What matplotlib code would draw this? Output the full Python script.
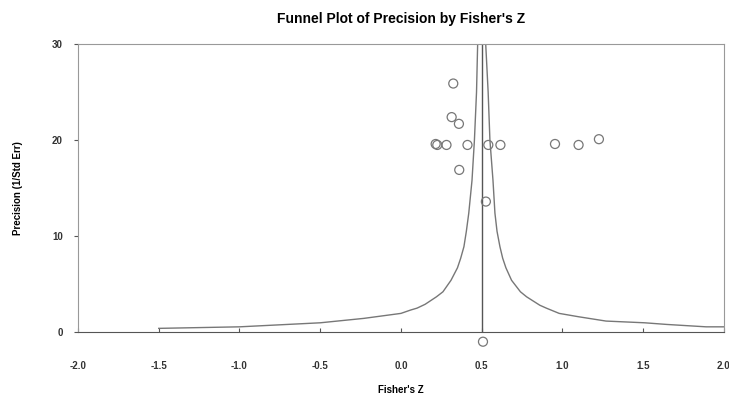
import matplotlib
matplotlib.use('Agg')
import matplotlib.pyplot as plt

# study estimates: Fisher's Z and precision (1/Std Err)
z_vals = [0.324, 0.314, 0.359, 0.215, 0.225, 0.282, 0.412, 0.541, 0.616,
          0.954, 1.100, 1.226, 0.361, 0.526, 0.508]
prec_vals = [25.9, 22.4, 21.7, 19.6, 19.5, 19.5, 19.5, 19.5, 19.5,
             19.6, 19.5, 20.1, 16.9, 13.6, -1.0]

# funnel boundaries
left_z = [-1.5, -1.0, -0.5, -0.23, 0.0, 0.06, 0.1, 0.15, 0.22, 0.26, 0.31, 0.35,
          0.37, 0.39, 0.405, 0.42, 0.44, 0.455, 0.468, 0.475]
left_p = [0.39, 0.55, 0.97, 1.43, 1.95, 2.3, 2.5, 2.9, 3.68, 4.2, 5.4, 6.7,
          7.7, 8.9, 10.5, 12.4, 15.8, 20.0, 25.0, 30.0]
right_z = [0.525, 0.54, 0.551, 0.57, 0.582, 0.595, 0.613, 0.63, 0.65, 0.685, 0.74,
           0.778, 0.86, 0.9, 0.98, 1.1, 1.27, 1.51, 1.645, 1.89, 2.0]
right_p = [30.0, 25.0, 20.0, 15.8, 12.4, 10.5, 8.9, 7.7, 6.7, 5.4, 4.2,
           3.68, 2.8, 2.5, 1.95, 1.6, 1.15, 0.97, 0.8, 0.55, 0.55]
mean_z = 0.5

x_ticks = [-2.0, -1.5, -1.0, -0.5, 0.0, 0.5, 1.0, 1.5, 2.0]
y_ticks = [0, 10, 20, 30]

plt.rcParams['font.family'] = ['Liberation Sans', 'DejaVu Sans']
fig = plt.figure(figsize=(7.29, 4.09), dpi=100)
ax = fig.add_axes([0.107, 0.188, 0.886, 0.704])

ax.plot(left_z, left_p, color='#777777', lw=1.0)
ax.plot(right_z, right_p, color='#777777', lw=1.0)
ax.plot([mean_z, mean_z], [0, 30], color='#555555', lw=1.0)
ax.scatter(z_vals, prec_vals, s=42, facecolors='none', edgecolors='#777777',
           linewidths=0.9, clip_on=False, zorder=3)

ax.set_xlim(-2.0, 2.0)
ax.set_ylim(0, 30)
ax.set_xticks(x_ticks)
ax.set_xticklabels(['%.1f' % v for v in x_ticks])
ax.set_yticks(y_ticks)
for s in ax.spines.values():
    s.set_color('#999999')
    s.set_linewidth(0.8)
ax.spines['bottom'].set_color('#555555')
ax.tick_params(axis='x', direction='in', length=3, pad=21, colors='#555555', labelsize=7)
ax.tick_params(axis='y', direction='out', length=3, pad=8, colors='#555555', labelsize=7)
for lab in ax.get_xticklabels() + ax.get_yticklabels():
    lab.set_fontweight('bold')
    lab.set_color('#333333')

ax.set_title("Funnel Plot of Precision by Fisher's Z", fontsize=10, fontweight='bold', pad=15)
ax.set_xlabel("Fisher's Z", fontsize=7, fontweight='bold', labelpad=10)
ax.set_ylabel("Precision (1/Std Err)", fontsize=7, fontweight='bold', labelpad=21)

fig.savefig('out.png', dpi=100)
